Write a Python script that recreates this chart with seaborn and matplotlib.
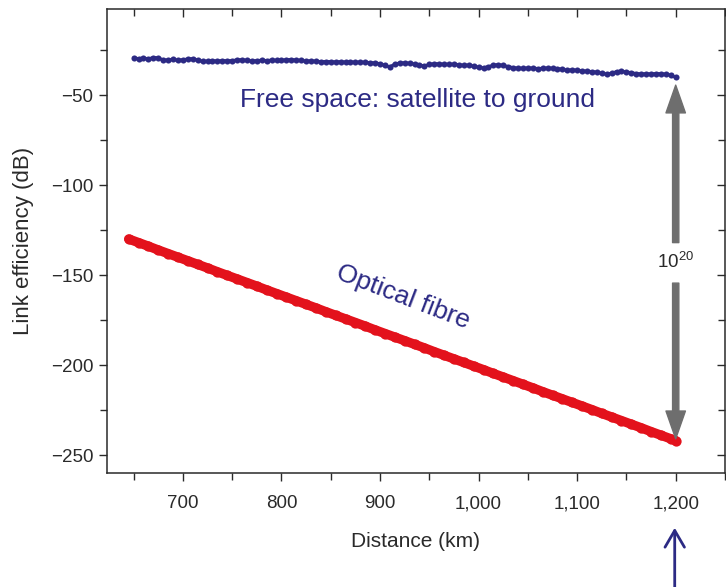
import pandas as pd
import matplotlib
matplotlib.use("Agg")
import matplotlib.pyplot as plt
import matplotlib.ticker as mticker
import seaborn as sns

# free-space link, satellite to ground (5 km steps, 650-1200 km)
space_km = list(range(650, 1201, 5))
space_db = [
    -29.4, -29.8, -29.5, -29.9, -29.2, -29.3, -30.6, -30.5, -30.2, -30.7,
    -30.4, -30.0, -29.8, -30.6, -31.3, -31.2, -31.0, -31.1, -30.9, -31.0,
    -30.9, -30.5, -30.4, -30.8, -31.1, -30.9, -30.7, -30.9, -30.6, -30.8,
    -30.7, -30.4, -30.3, -30.6, -30.8, -31.2, -31.0, -31.3, -31.5, -31.4,
    -31.5, -31.6, -31.5, -31.7, -31.6, -31.8, -31.7, -31.9, -32.0, -32.2,
    -32.6, -33.6, -34.4, -32.8, -32.2, -32.1, -32.4, -32.8, -33.3, -33.9,
    -33.0, -32.6, -32.7, -32.9, -33.0, -32.9, -33.2, -33.5, -33.4, -34.0,
    -34.6, -34.9, -34.3, -33.4, -33.1, -33.6, -34.2, -34.8, -35.1, -35.2,
    -35.0, -35.1, -35.3, -35.2, -35.0, -35.2, -35.3, -35.8, -36.2, -36.0,
    -36.3, -36.6, -36.8, -37.0, -37.3, -37.9, -38.4, -37.9, -37.0, -36.8,
    -37.2, -37.6, -38.1, -38.3, -38.2, -38.3, -38.1, -38.2, -38.4, -39.0,
    -40.2,
]

# optical fibre link
fibre_km = list(range(645, 1196, 10)) + [1200]
fibre_db = [
    -130.0, -132.0, -134.0, -136.1, -138.1, -140.1, -142.1, -144.1, -146.1, -148.2,
    -150.2, -152.2, -154.2, -156.2, -158.3, -160.3, -162.3, -164.3, -166.3, -168.3,
    -170.4, -172.4, -174.4, -176.4, -178.4, -180.5, -182.5, -184.5, -186.5, -188.5,
    -190.5, -192.6, -194.6, -196.6, -198.6, -200.6, -202.6, -204.7, -206.7, -208.7,
    -210.7, -212.7, -214.8, -216.8, -218.8, -220.8, -222.8, -224.8, -226.9, -228.9,
    -230.9, -232.9, -234.9, -237.0, -239.0, -241.0, -242.0,
]

df_space = pd.DataFrame({"km": space_km, "db": space_db})
df_fibre = pd.DataFrame({"km": fibre_km, "db": fibre_db})

sns.set_theme(style="ticks")
plt.rcParams["font.family"] = ["Liberation Sans", "DejaVu Sans"]
plt.rcParams["mathtext.fontset"] = "custom"
plt.rcParams["mathtext.rm"] = "Liberation Sans"
plt.rcParams["mathtext.it"] = "Liberation Sans:italic"

navy = "#2c2a84"
red = "#e3121c"
grey = "#6e6e6e"
ink = "#2a2a2a"

fig = plt.figure(figsize=(7.26, 5.87), dpi=100)
ax = fig.add_axes([0.1474, 0.1942, 0.8512, 0.7905])

sns.lineplot(data=df_fibre, x="km", y="db", ax=ax, color=red, linewidth=6.8,
             marker="o", markersize=7.4, markeredgewidth=0, zorder=3)
sns.lineplot(data=df_space, x="km", y="db", ax=ax, color=navy, linewidth=2.2,
             marker="o", markersize=4.4, markeredgewidth=0, zorder=3)

ax.set_xlim(623, 1250)
ax.set_ylim(-260, -2.2)

ax.xaxis.set_major_locator(mticker.MultipleLocator(100))
ax.xaxis.set_minor_locator(mticker.MultipleLocator(50))
ax.yaxis.set_major_locator(mticker.MultipleLocator(50))
ax.yaxis.set_minor_locator(mticker.MultipleLocator(25))
ax.xaxis.set_major_formatter(mticker.FuncFormatter(lambda v, p: f"{v:,.0f}"))

ax.tick_params(axis="both", which="both", direction="out", color=ink, width=1.0,
               labelsize=13.5, labelcolor=ink)
ax.tick_params(axis="both", which="major", length=6)
ax.tick_params(axis="both", which="minor", length=5)
ax.tick_params(axis="x", which="both", top=True, labeltop=False, pad=10)
ax.tick_params(axis="y", which="both", right=True, labelright=False, pad=4)
# inner ticks on top and right
for t in ax.xaxis.get_major_ticks() + ax.xaxis.get_minor_ticks():
    t.tick2line.set_marker(3)
for t in ax.yaxis.get_major_ticks() + ax.yaxis.get_minor_ticks():
    t.tick2line.set_marker(0)

for s in ax.spines.values():
    s.set_color(ink)
    s.set_linewidth(1.1)

ax.set_xlabel("Distance (km)", fontsize=15, color=ink, labelpad=14)
ax.set_ylabel("Link efficiency (dB)", fontsize=16, color=ink)
ax.yaxis.set_label_coords(-0.118, 0.5)

ax.text(938, -52.8, "Free space: satellite to ground", color=navy, fontsize=19,
        ha="center", va="center")
ax.text(923, -162.5, "Optical fibre", color=navy, fontsize=19, rotation=-21,
        ha="center", va="center", rotation_mode="anchor")

arrow = dict(arrowstyle="simple,head_length=2.0,head_width=1.4,tail_width=0.45",
             mutation_scale=10, color=grey, shrinkA=0, shrinkB=0)
ax.annotate("", xy=(1200, -44.5), xytext=(1200, -132), arrowprops=arrow)
ax.annotate("", xy=(1200, -241), xytext=(1200, -154.5), arrowprops=arrow)
ax.text(1200, -143, r"$\mathregular{10^{20}}$", fontsize=13.5, color=ink,
        ha="center", va="center")

ax.annotate("", xy=(1199, -0.118), xytext=(1199, -0.26),
            xycoords=("data", "axes fraction"), textcoords=("data", "axes fraction"),
            annotation_clip=False,
            arrowprops=dict(arrowstyle="->,head_length=0.6,head_width=0.35",
                            mutation_scale=20, color=navy, linewidth=2,
                            shrinkA=0, shrinkB=0))

fig.savefig("out.png", dpi=100)
plt.close(fig)
